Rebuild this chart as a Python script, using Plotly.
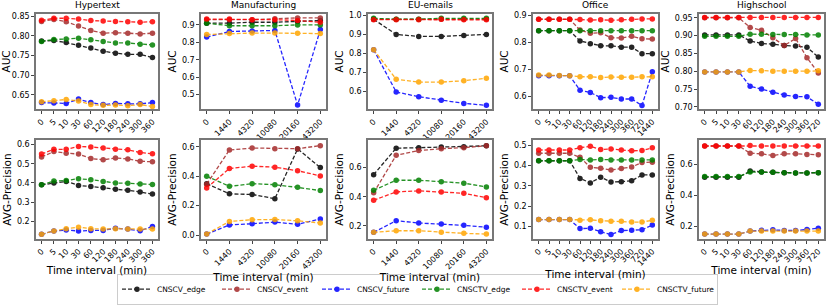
import plotly.graph_objects as go

SERIES = ["CNSCV_edge", "CNSCV_event", "CNSCV_future", "CNSCTV_edge", "CNSCTV_event", "CNSCTV_future"]
COLORS = ["black", "#A52A2A", "blue", "green", "red", "orange"]
DATASETS = ["Hypertext", "Manufacturing", "EU-emails", "Office", "Highschool"]

hypertext_x = ["0", "5", "10", "30", "60", "120", "180", "240", "300", "360"]
manufacturing_x = ["0", "1440", "4320", "10080", "20160", "43200"]
euemails_x = ["0", "1440", "4320", "10080", "20160", "43200"]
office_x = ["0", "5", "10", "30", "60", "120", "180", "240", "300", "360", "720", "1440"]
highschool_x = ["0", "5", "10", "30", "60", "120", "180", "240", "300", "360", "720"]

hypertext_auc = {
    "CNSCV_edge": [0.787, 0.788, 0.783, 0.776, 0.769, 0.761, 0.756, 0.753, 0.753, 0.745],
    "CNSCV_event": [0.837, 0.842, 0.836, 0.825, 0.814, 0.807, 0.808, 0.807, 0.805, 0.807],
    "CNSCV_future": [0.630, 0.629, 0.628, 0.639, 0.630, 0.625, 0.628, 0.627, 0.627, 0.630],
    "CNSCTV_edge": [0.786, 0.791, 0.792, 0.794, 0.790, 0.786, 0.782, 0.782, 0.779, 0.777],
    "CNSCTV_event": [0.840, 0.845, 0.845, 0.843, 0.839, 0.838, 0.837, 0.836, 0.835, 0.836],
    "CNSCTV_future": [0.632, 0.635, 0.638, 0.634, 0.625, 0.623, 0.624, 0.622, 0.625, 0.620],
}
manufacturing_auc = {
    "CNSCV_edge": [0.910, 0.910, 0.915, 0.915, 0.920, 0.925],
    "CNSCV_event": [0.930, 0.930, 0.930, 0.935, 0.940, 0.940],
    "CNSCV_future": [0.830, 0.862, 0.865, 0.868, 0.440, 0.873],
    "CNSCTV_edge": [0.910, 0.895, 0.895, 0.895, 0.900, 0.900],
    "CNSCTV_event": [0.933, 0.933, 0.930, 0.930, 0.925, 0.915],
    "CNSCTV_future": [0.845, 0.850, 0.853, 0.853, 0.852, 0.850],
}
euemails_auc = {
    "CNSCV_edge": [0.980, 0.900, 0.890, 0.890, 0.895, 0.900],
    "CNSCV_event": [0.980, 0.980, 0.980, 0.980, 0.980, 0.980],
    "CNSCV_future": [0.820, 0.598, 0.573, 0.555, 0.538, 0.528],
    "CNSCTV_edge": [0.985, 0.980, 0.980, 0.985, 0.985, 0.985],
    "CNSCTV_event": [0.978, 0.978, 0.977, 0.980, 0.978, 0.977],
    "CNSCTV_future": [0.820, 0.665, 0.650, 0.650, 0.657, 0.670],
}
office_auc = {
    "CNSCV_edge": [0.843, 0.843, 0.843, 0.843, 0.805, 0.795, 0.787, 0.787, 0.782, 0.782, 0.758, 0.758],
    "CNSCV_event": [0.885, 0.885, 0.885, 0.885, 0.845, 0.833, 0.835, 0.817, 0.816, 0.822, 0.813, 0.812],
    "CNSCV_future": [0.677, 0.677, 0.677, 0.677, 0.623, 0.615, 0.596, 0.597, 0.591, 0.591, 0.567, 0.691],
    "CNSCTV_edge": [0.843, 0.843, 0.843, 0.843, 0.843, 0.843, 0.843, 0.843, 0.843, 0.843, 0.843, 0.843],
    "CNSCTV_event": [0.885, 0.885, 0.885, 0.885, 0.884, 0.882, 0.883, 0.881, 0.883, 0.885, 0.886, 0.886],
    "CNSCTV_future": [0.679, 0.679, 0.678, 0.677, 0.673, 0.673, 0.670, 0.672, 0.671, 0.671, 0.673, 0.673],
}
highschool_auc = {
    "CNSCV_edge": [0.902, 0.902, 0.902, 0.902, 0.885, 0.878, 0.876, 0.872, 0.871, 0.867, 0.840],
    "CNSCV_event": [0.950, 0.950, 0.950, 0.950, 0.923, 0.915, 0.894, 0.872, 0.892, 0.838, 0.795],
    "CNSCV_future": [0.798, 0.798, 0.798, 0.798, 0.758, 0.750, 0.741, 0.733, 0.729, 0.728, 0.707],
    "CNSCTV_edge": [0.898, 0.898, 0.898, 0.898, 0.904, 0.904, 0.903, 0.903, 0.903, 0.902, 0.902],
    "CNSCTV_event": [0.951, 0.951, 0.951, 0.951, 0.951, 0.951, 0.951, 0.951, 0.951, 0.951, 0.951],
    "CNSCTV_future": [0.798, 0.798, 0.798, 0.798, 0.802, 0.801, 0.800, 0.800, 0.800, 0.800, 0.801],
}

hypertext_ap = {
    "CNSCV_edge": [0.390, 0.400, 0.408, 0.387, 0.382, 0.375, 0.367, 0.362, 0.353, 0.342],
    "CNSCV_event": [0.535, 0.563, 0.555, 0.550, 0.527, 0.520, 0.530, 0.525, 0.513, 0.510],
    "CNSCV_future": [0.133, 0.150, 0.155, 0.150, 0.153, 0.153, 0.165, 0.160, 0.152, 0.173],
    "CNSCTV_edge": [0.390, 0.410, 0.413, 0.422, 0.417, 0.407, 0.400, 0.398, 0.395, 0.392],
    "CNSCTV_event": [0.550, 0.575, 0.575, 0.590, 0.587, 0.582, 0.575, 0.572, 0.558, 0.552],
    "CNSCTV_future": [0.133, 0.150, 0.162, 0.170, 0.162, 0.160, 0.162, 0.160, 0.160, 0.160],
}
manufacturing_ap = {
    "CNSCV_edge": [0.349, 0.280, 0.276, 0.247, 0.585, 0.459],
    "CNSCV_event": [0.346, 0.578, 0.591, 0.587, 0.587, 0.607],
    "CNSCV_future": [0.007, 0.069, 0.077, 0.088, 0.073, 0.110],
    "CNSCTV_edge": [0.400, 0.331, 0.349, 0.342, 0.324, 0.302],
    "CNSCTV_event": [0.320, 0.452, 0.468, 0.461, 0.437, 0.402],
    "CNSCTV_future": [0.007, 0.093, 0.104, 0.106, 0.097, 0.082],
}
euemails_ap = {
    "CNSCV_edge": [0.551, 0.733, 0.736, 0.740, 0.742, 0.749],
    "CNSCV_event": [0.427, 0.684, 0.716, 0.729, 0.736, 0.749],
    "CNSCV_future": [0.156, 0.236, 0.220, 0.213, 0.204, 0.191],
    "CNSCTV_edge": [0.444, 0.513, 0.513, 0.502, 0.493, 0.467],
    "CNSCTV_event": [0.376, 0.433, 0.440, 0.433, 0.424, 0.393],
    "CNSCTV_future": [0.156, 0.167, 0.167, 0.156, 0.149, 0.144],
}
office_ap = {
    "CNSCV_edge": [0.423, 0.423, 0.423, 0.423, 0.336, 0.314, 0.342, 0.318, 0.320, 0.324, 0.353, 0.353],
    "CNSCV_event": [0.460, 0.460, 0.460, 0.460, 0.440, 0.391, 0.386, 0.377, 0.385, 0.392, 0.415, 0.416],
    "CNSCV_future": [0.133, 0.133, 0.133, 0.133, 0.089, 0.090, 0.073, 0.060, 0.079, 0.081, 0.083, 0.106],
    "CNSCTV_edge": [0.423, 0.423, 0.423, 0.423, 0.429, 0.427, 0.429, 0.427, 0.427, 0.427, 0.427, 0.427],
    "CNSCTV_event": [0.476, 0.476, 0.476, 0.476, 0.487, 0.494, 0.478, 0.481, 0.476, 0.472, 0.473, 0.487],
    "CNSCTV_future": [0.133, 0.133, 0.133, 0.133, 0.130, 0.132, 0.128, 0.125, 0.125, 0.121, 0.121, 0.130],
}
highschool_ap = {
    "CNSCV_edge": [0.517, 0.517, 0.517, 0.517, 0.556, 0.550, 0.548, 0.546, 0.544, 0.544, 0.546],
    "CNSCV_event": [0.717, 0.717, 0.717, 0.717, 0.671, 0.667, 0.656, 0.667, 0.667, 0.663, 0.661],
    "CNSCV_future": [0.152, 0.152, 0.152, 0.152, 0.171, 0.177, 0.179, 0.175, 0.175, 0.181, 0.190],
    "CNSCTV_edge": [0.521, 0.521, 0.521, 0.521, 0.550, 0.550, 0.548, 0.546, 0.544, 0.544, 0.546],
    "CNSCTV_event": [0.717, 0.717, 0.717, 0.717, 0.720, 0.717, 0.717, 0.717, 0.717, 0.717, 0.717],
    "CNSCTV_future": [0.152, 0.152, 0.152, 0.152, 0.171, 0.171, 0.171, 0.171, 0.171, 0.171, 0.171],
}

auc_ticks = [
    ([0.65, 0.70, 0.75, 0.80, 0.85], ".2f", [0.613, 0.857]),
    ([0.5, 0.6, 0.7, 0.8, 0.9], ".1f", [0.416, 0.965]),
    ([0.6, 0.7, 0.8, 0.9, 1.0], ".1f", [0.507, 1.010]),
    ([0.6, 0.7, 0.8, 0.9], ".1f", [0.553, 0.906]),
    ([0.70, 0.75, 0.80, 0.85, 0.90, 0.95], ".2f", [0.693, 0.962]),
]
ap_ticks = [
    ([0.2, 0.3, 0.4, 0.5, 0.6], ".1f", [0.109, 0.622]),
    ([0.0, 0.2, 0.4, 0.6], ".1f", [-0.026, 0.644]),
    ([0.2, 0.4, 0.6], ".1f", [0.111, 0.787]),
    ([0.1, 0.2, 0.3, 0.4, 0.5], ".1f", [0.038, 0.524]),
    ([0.2, 0.4, 0.6], ".1f", [0.121, 0.754]),
]

xs = [hypertext_x, manufacturing_x, euemails_x, office_x, highschool_x]
auc = [hypertext_auc, manufacturing_auc, euemails_auc, office_auc, highschool_auc]
ap = [hypertext_ap, manufacturing_ap, euemails_ap, office_ap, highschool_ap]

W, H = 830, 305
x_px = [(36, 158), (201, 326), (368, 492), (533, 658), (699, 824)]
top_px = (14, 113)
bot_px = (145, 247)

FONT = "DejaVu Sans"
fig = go.Figure()
layout = dict(
    template="none",
    width=W, height=H, margin=dict(l=0, r=0, t=0, b=0, pad=0), autosize=False,
    plot_bgcolor="white", paper_bgcolor="white",
    font=dict(family=FONT, size=8, color="black"),
    showlegend=True,
)
annotations = []

def ydom(p):
    return [1 - p[1] / H, 1 - p[0] / H]

idx = 0
for row, (data, ticks, ypx, ylab) in enumerate([(auc, auc_ticks, top_px, "AUC"), (ap, ap_ticks, bot_px, "AVG-Precision")]):
    for col in range(5):
        idx += 1
        xa = "x" if idx == 1 else f"x{idx}"
        ya = "y" if idx == 1 else f"y{idx}"
        cats = xs[col]
        n = len(cats)
        for s, c in zip(SERIES, COLORS):
            fig.add_trace(go.Scatter(
                x=cats, y=data[col][s], mode="lines+markers", name=s,
                xaxis=xa, yaxis=ya, legendgroup=s, showlegend=(idx == 1),
                line=dict(color=c, width=1.3, dash="4px,2px"),
                marker=dict(color=c, size=5.5, line=dict(width=0)), opacity=0.85,
            ))
        tv, fmt, rng = ticks[col]
        x0, x1 = x_px[col]
        layout["xaxis" if idx == 1 else f"xaxis{idx}"] = dict(
            domain=[x0 / W, x1 / W], anchor=ya, type="category", automargin=False,
            range=[-0.05 * (n - 1), 1.05 * (n - 1)],
            tickmode="array", tickvals=cats, ticktext=cats,
            tickangle=-45, tickfont=dict(size=8),
            ticks="outside", ticklen=3, tickcolor="#444",
            showline=True, linecolor="#777", linewidth=1.5, mirror=True,
            showgrid=False, zeroline=False,
            title=dict(text="Time interval (min)", font=dict(size=10.5), standoff=0) if row == 1 else None,
        )
        layout["yaxis" if idx == 1 else f"yaxis{idx}"] = dict(
            domain=ydom(ypx), anchor=xa, range=rng, automargin=False,
            tickvals=tv, tickformat=fmt, tickfont=dict(size=8),
            ticks="outside", ticklen=3, tickcolor="#444",
            showline=True, linecolor="#777", linewidth=1.5, mirror=True,
            showgrid=False, zeroline=False,
            title=dict(text=ylab, font=dict(size=10.5), standoff=3),
        )
        if row == 0:
            annotations.append(dict(
                text=DATASETS[col], x=(x0 + x1) / 2 / W, y=1 - 12 / H,
                xref="paper", yref="paper", xanchor="center", yanchor="bottom",
                showarrow=False, font=dict(size=9),
            ))

layout["annotations"] = annotations
layout["legend"] = dict(
    orientation="h", x=0.503, y=1 - 283 / H, xanchor="center", yanchor="top",
    bordercolor="#cccccc", borderwidth=1, font=dict(size=7.5), bgcolor="white",
    entrywidth=55, entrywidthmode="pixels", itemwidth=30, tracegroupgap=0,
)
fig.update_layout(**layout)
fig.write_html(
    "out.html",
    config={"displayModeBar": False},
    post_script="document.body.style.margin='0px';document.body.style.padding='0px';",
)
